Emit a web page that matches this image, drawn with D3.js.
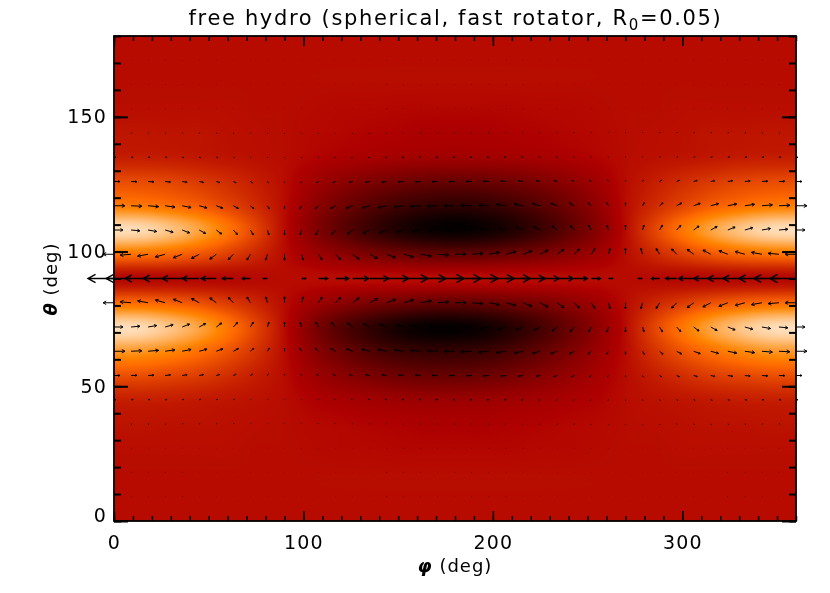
<!DOCTYPE html>
<html><head><meta charset="utf-8">
<script src="https://cdn.jsdelivr.net/npm/d3@7"></script>
<style>
html,body{margin:0;padding:0;background:#fff;width:830px;height:593px;overflow:hidden}
#wrap{position:relative;width:830px;height:593px}
canvas,svg{position:absolute;left:0;top:0}
text{font-family:"DejaVu Sans",sans-serif;fill:#000}
</style></head><body><div id="wrap"></div>
<script>
// ---------- labels ----------
const titleText = "free hydro (spherical, fast rotator, R";
const titleSub = "0";
const titleEnd = "=0.05)";
const xMajor = [0,100,200,300];
const yMajor = [0,50,100,150];
const xMinor = d3.range(0,361,10);
const yMinor = d3.range(0,181,10);

// ---------- colour field: colour-table index, sampled every 15 deg in phi, 9 deg in theta ----------
const fieldPhi = d3.range(0,361,15);
const fieldTheta = d3.range(0,181,9);
const zBase  = [126,126,126,126,126,126,126,126,126,126,126,126,126,126,126,126,126,126,126,126,126,126,126,126,126];
const zFringe= [127,127,127,127,127,126,126,125,124,124,123,123,123,123,123,124,124,125,126,126,127,127,127,127,127];
const z36  = [130,130,129,129,128,127,126,124,123,121,120,118,118,118,120,121,123,124,126,127,128,129,129,130,130];
const z45  = [136,136,135,133,131,129,126,120,115,111,108,106,106,107,110,113,117,121,126,129,131,133,135,136,136];
const z54  = [162,161,157,152,144,135,126,110,96,85,76,72,71,74,82,92,103,115,126,135,144,152,157,161,162];
const z63  = [201,199,191,179,164,146,126,98,75,56,43,36,36,40,52,68,86,106,126,146,164,179,191,199,201];
const z72  = [238,235,223,206,182,155,126,88,58,35,16,5,4,11,27,48,72,98,126,155,182,206,223,235,238];
const z81  = [176,175,170,162,151,139,126,110,97,85,77,70,68,70,77,85,97,110,126,139,151,162,170,175,176];
const z90  = [124,124,124,124,124,125,126,126,126,126,126,126,126,126,126,126,126,126,126,125,124,124,124,124,124];
const z99  = [181,179,174,165,153,140,126,110,97,85,77,70,68,70,77,85,97,110,126,140,153,165,174,179,181];
const z108 = [238,235,223,206,182,155,126,93,65,41,22,9,4,9,22,41,65,93,126,155,182,206,223,235,238];
const z117 = [186,184,178,169,156,142,126,100,78,60,45,35,31,35,45,60,78,100,126,142,156,169,178,184,186];
const z126 = [160,159,156,150,143,135,126,111,98,87,79,73,71,73,79,87,98,111,126,135,143,150,156,159,160];
const z135 = [135,135,134,132,130,128,126,122,118,115,112,111,110,111,112,115,118,122,126,128,130,132,134,135,135];
const z144 = [131,131,130,130,128,127,126,124,123,121,120,118,118,118,120,121,123,124,126,127,128,130,130,131,131];
const fieldRows = [zBase,zBase,zBase,zFringe,z36,z45,z54,z63,z72,z81,z90,z99,z108,z117,z126,z135,z144,zFringe,zBase,zBase,zBase];

// ---------- arrows sampled every 9 deg in phi ----------
const arrowPhi = d3.range(0,361,9);
const arrowTheta = d3.range(9,172,9);
const uEq   = [-26,-25,-23,-22,-20,-17,-15,-11,-8,-4,0,4,9,13,16,19,22,24,25,26,26,26,25,24,22,19,16,13,9,4,0,-4,-8,-11,-15,-17,-20,-22,-23,-25,-26];
const uNear = [-11,-10.9,-10.5,-9.8,-8.9,-7.8,-6.5,-5,-3.4,-1.7,0,1.7,3.4,5,6.5,7.8,8.9,9.8,10.5,10.9,11,10.9,10.5,9.8,8.9,7.8,6.5,5,3.4,1.7,0,-1.7,-3.4,-5,-6.5,-7.8,-8.9,-9.8,-10.5,-10.9,-11];
const uPeak = [11,10.9,10.5,9.8,8.9,7.8,6.5,5,3.4,1.7,0,-1.7,-3.4,-5,-6.5,-7.8,-8.9,-9.8,-10.5,-10.9,-11,-10.9,-10.5,-9.8,-8.9,-7.8,-6.5,-5,-3.4,-1.7,0,1.7,3.4,5,6.5,7.8,8.9,9.8,10.5,10.9,11];
const uMid  = [9,8.9,8.6,8,7.3,6.4,5.3,4.1,2.8,1.4,0,-1.4,-2.8,-4.1,-5.3,-6.4,-7.3,-8,-8.6,-8.9,-9,-8.9,-8.6,-8,-7.3,-6.4,-5.3,-4.1,-2.8,-1.4,0,1.4,2.8,4.1,5.3,6.4,7.3,8,8.6,8.9,9];
const uOut  = [6,5.9,5.7,5.3,4.9,4.2,3.5,2.7,1.9,.9,0,-.9,-1.9,-2.7,-3.5,-4.2,-4.9,-5.3,-5.7,-5.9,-6,-5.9,-5.7,-5.3,-4.9,-4.2,-3.5,-2.7,-1.9,-.9,0,.9,1.9,2.7,3.5,4.2,4.9,5.3,5.7,5.9,6];
const uFar  = [2,2,1.9,1.8,1.6,1.4,1.2,.9,.6,.3,0,-.3,-.6,-.9,-1.2,-1.4,-1.6,-1.8,-1.9,-2,-2,-2,-1.9,-1.8,-1.6,-1.4,-1.2,-.9,-.6,-.3,0,.3,.6,.9,1.2,1.4,1.6,1.8,1.9,2,2];
const uEdge = [.8,.8,.8,.7,.6,.6,.5,.4,.2,.1,0,-.1,-.2,-.4,-.5,-.6,-.6,-.7,-.8,-.8,-.8,-.8,-.8,-.7,-.6,-.6,-.5,-.4,-.2,-.1,0,.1,.2,.4,.5,.6,.6,.7,.8,.8,.8];
const uNone = [.2,.2,.2,.2,.2,.1,.1,.1,.1,0,0,0,-.1,-.1,-.1,-.1,-.2,-.2,-.2,-.2,-.2,-.2,-.2,-.2,-.2,-.1,-.1,-.1,-.1,0,0,0,.1,.1,.1,.1,.2,.2,.2,.2,.2];
const vNear = [0,.9,1.9,2.7,3.5,4.2,4.9,5.3,5.7,5.9,6,5.9,5.7,5.3,4.9,4.2,3.5,2.7,1.9,.9,0,-.9,-1.9,-2.7,-3.5,-4.2,-4.9,-5.3,-5.7,-5.9,-6,-5.9,-5.7,-5.3,-4.9,-4.2,-3.5,-2.7,-1.9,-.9,0];
const vMid  = [0,.8,1.5,2.3,2.9,3.5,4,4.5,4.8,4.9,5,4.9,4.8,4.5,4,3.5,2.9,2.3,1.5,.8,0,-.8,-1.5,-2.3,-2.9,-3.5,-4,-4.5,-4.8,-4.9,-5,-4.9,-4.8,-4.5,-4,-3.5,-2.9,-2.3,-1.5,-.8,0];
const vPeak = [0,.5,.9,1.4,1.8,2.1,2.4,2.7,2.9,3,3,3,2.9,2.7,2.4,2.1,1.8,1.4,.9,.5,0,-.5,-.9,-1.4,-1.8,-2.1,-2.4,-2.7,-2.9,-3,-3,-3,-2.9,-2.7,-2.4,-2.1,-1.8,-1.4,-.9,-.5,0];
const vOut  = [0,.2,.4,.6,.8,.9,1,1.2,1.2,1.3,1.3,1.3,1.2,1.2,1,.9,.8,.6,.4,.2,0,-.2,-.4,-.6,-.8,-.9,-1,-1.2,-1.2,-1.3,-1.3,-1.3,-1.2,-1.2,-1,-.9,-.8,-.6,-.4,-.2,0];
const vFar  = [0,.1,.2,.2,.3,.4,.4,.4,.5,.5,.5,.5,.5,.4,.4,.4,.3,.2,.2,.1,0,-.1,-.2,-.2,-.3,-.4,-.4,-.4,-.5,-.5,-.5,-.5,-.5,-.4,-.4,-.4,-.3,-.2,-.2,-.1,0];
const vNone = [0,0,0,0,.1,.1,.1,.1,.1,.1,.1,.1,.1,.1,.1,.1,.1,0,0,0,0,0,0,0,-.1,-.1,-.1,-.1,-.1,-.1,-.1,-.1,-.1,-.1,-.1,-.1,-.1,0,0,0,0];
const vZero = arrowPhi.map(()=>0);
const uByRow = [uNone,uNone,uNone,uEdge,uFar,uOut,uPeak,uMid,uNear,uEq,uNear,uMid,uPeak,uOut,uFar,uEdge,uNone,uNone,uNone];
const vByRow = [vNone,vNone,vNone,vFar,vFar,vOut,vPeak,vMid,vNear,vZero,vNear,vMid,vPeak,vOut,vFar,vFar,vNone,vNone,vNone];
const vHemi  = [-1,-1,-1,-1,-1,-1,-1,-1,-1,1,1,1,1,1,1,1,1,1,1];

// ---------- layout ----------
const W=830,H=593,L=114,R=796,T=36,B=521;
const x=d3.scaleLinear().domain([0,360]).range([L,R]);
const y=d3.scaleLinear().domain([0,180]).range([B,T]);
const colorIdx=d3.scaleLinear().domain([0,120,176,190,255])
  .range(["rgb(0,0,0)","rgb(174,0,0)","rgb(255,106,0)","rgb(255,132,0)","rgb(255,255,255)"]).clamp(true);

const wrap=d3.select("#wrap");
// heat map
const cv=wrap.append("canvas").attr("width",R-L).attr("height",B-T)
  .style("left",L+"px").style("top",T+"px").node();
const ctx=cv.getContext("2d");
const img=ctx.createImageData(R-L,B-T);
function cub(a,b,c,d,t){return b+.5*t*(c-a+t*(2*a-5*b+4*c-d+t*(3*(b-c)+d-a)));}
const nr=fieldRows.length,nc=fieldPhi.length;
const cl=(v,n)=>Math.max(0,Math.min(n-1,v));
function sampleZ(phi,theta){
  const fc=phi/15,fr=theta/9,c0=Math.min(Math.floor(fc),nc-2),r0=Math.min(Math.floor(fr),nr-2);
  const tc=fc-c0,tr=fr-r0,vals=[];
  for(let r=r0-1;r<=r0+2;r++){
    const row=fieldRows[cl(r,nr)];
    vals.push(cub(row[cl(c0-1,nc)],row[c0],row[c0+1],row[cl(c0+2,nc)],tc));
  }
  return cub(vals[0],vals[1],vals[2],vals[3],tr);
}
for(let j=0;j<B-T;j++){
  const th=y.invert(T+j+.5);
  for(let i=0;i<R-L;i++){
    const c=d3.rgb(colorIdx(sampleZ(x.invert(L+i+.5),th))),o=(j*(R-L)+i)*4;
    img.data[o]=c.r;img.data[o+1]=c.g;img.data[o+2]=c.b;img.data[o+3]=255;
  }
}
ctx.putImageData(img,0,0);

const svg=wrap.append("svg").attr("width",W).attr("height",H);

// arrows
const arrows=[];
arrowTheta.forEach((th,r)=>arrowPhi.forEach((ph,k)=>arrows.push({th,ph,u:uByRow[r][k],v:vByRow[r][k]*vHemi[r]})));
svg.append("g").attr("fill","none").attr("stroke","#000").attr("stroke-linecap","butt")
  .selectAll("path").data(arrows).join("path").attr("stroke-width",d=>d.th===90?1.4:1).attr("d",d=>{
    const x0=x(d.ph),y0=y(d.th),x1=x0+d.u,y1=y0+d.v,a=Math.atan2(d.v,d.u),len=Math.hypot(d.u,d.v)*.33,s=.5;
    const p=[a+Math.PI-s,a+Math.PI+s].map(t=>[x1+len*Math.cos(t),y1+len*Math.sin(t)]);
    return `M${x0},${y0}L${x1},${y1}M${p[0]}L${x1},${y1}L${p[1]}`;
  });

// frame and ticks
const tickStyle=(g,w)=>{g.select(".domain").remove();g.selectAll("line").attr("stroke","#000").attr("stroke-width",w);
  g.selectAll("text").attr("font-size",19).attr("letter-spacing",1.2).attr("font-family","DejaVu Sans");};
const gm=(ax,tr,w)=>svg.append("g").attr("transform",tr).call(ax).call(g=>tickStyle(g,w));
gm(d3.axisBottom(x).tickValues(xMinor).tickSize(-5).tickFormat(""),`translate(0,${B})`,1.5);
gm(d3.axisTop(x).tickValues(xMinor).tickSize(-5).tickFormat(""),`translate(0,${T})`,1.5);
gm(d3.axisLeft(y).tickValues(yMinor).tickSize(-7).tickFormat(""),`translate(${L},0)`,2);
gm(d3.axisRight(y).tickValues(yMinor).tickSize(-7).tickFormat(""),`translate(${R},0)`,2);
gm(d3.axisBottom(x).tickValues(xMajor).tickSize(-10).tickPadding(15),`translate(0,${B})`,1.5);
gm(d3.axisTop(x).tickValues(xMajor).tickSize(-10).tickFormat(""),`translate(0,${T})`,1.5);
gm(d3.axisLeft(y).tickValues(yMajor).tickSize(-14).tickPadding(7),`translate(${L},0)`,2)
  .selectAll(".tick text").filter(d=>d===0).attr("dy","0em");
gm(d3.axisRight(y).tickValues(yMajor).tickSize(-14).tickFormat(""),`translate(${R},0)`,2);
svg.append("rect").attr("x",L).attr("y",T).attr("width",R-L).attr("height",B-T)
  .attr("fill","none").attr("stroke","#000").attr("stroke-width",1.8);

// titles
const title=svg.append("text").attr("x",(L+R)/2+.5).attr("y",25).attr("text-anchor","middle")
  .attr("font-size",21).attr("letter-spacing",1.65);
title.append("tspan").text(titleText);
title.append("tspan").text(titleSub).attr("font-size",15).attr("dy",5);
title.append("tspan").text(titleEnd).attr("dy",-5);
const xl=svg.append("text").attr("x",455).attr("y",572).attr("text-anchor","middle").attr("font-size",18).attr("letter-spacing",1);
xl.append("tspan").text("φ").attr("font-weight","bold").attr("font-style","italic");
xl.append("tspan").text(" (deg)");
const yl=svg.append("text").attr("transform","translate(57,279) rotate(-90)").attr("text-anchor","middle").attr("font-size",18).attr("letter-spacing",1);
yl.append("tspan").text("θ").attr("font-weight","bold").attr("font-style","italic");
yl.append("tspan").text(" (deg)");
</script></body></html>
